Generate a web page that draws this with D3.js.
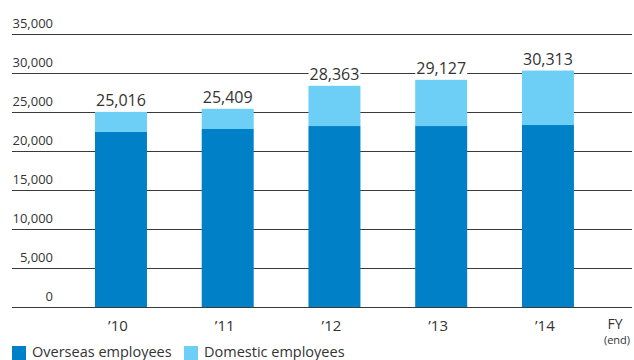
<!DOCTYPE html>
<html>
<head>
<meta charset="utf-8">
<script src="https://cdn.jsdelivr.net/npm/d3@7"></script>
<style>
  html, body { margin: 0; padding: 0; background: #fff; }
  svg { display: block; font-family: "Open Sans", "Noto Sans", sans-serif; }
</style>
</head>
<body>
<svg id="chart" width="634" height="360"></svg>
<script>
// Employees by fiscal year (end), stacked: overseas + domestic
const years = ["\u201910", "\u201911", "\u201912", "\u201913", "\u201914"];
const overseas = [22440, 22820, 23200, 23200, 23330];
const domestic = [2576, 2589, 5163, 5927, 6983];
const yTicks = [0, 5000, 10000, 15000, 20000, 25000, 30000, 35000];
const seriesNames = ["Overseas employees", "Domestic employees"];
const colors = ["#0080c6", "#6dcff6"];

const svg = d3.select("#chart");
const gridLeft = 12, gridRight = 632;

const y = d3.scaleLinear().domain([0, 35000]).range([307, 34]);
const x = d3.scaleBand().domain(years)
  .range([41.6, 627.3]).paddingInner(0.513).paddingOuter(0.5);

const rows = years.map((yr, i) => ({ year: yr, overseas: overseas[i], domestic: domestic[i] }));
const stack = d3.stack().keys(["overseas", "domestic"])(rows);

// horizontal gridlines
svg.append("g").selectAll("line").data(yTicks).join("line")
  .attr("x1", gridLeft).attr("x2", gridRight)
  .attr("y1", d => Math.round(y(d)) + 0.5).attr("y2", d => Math.round(y(d)) + 0.5)
  .attr("stroke", "#3a3a3a").attr("stroke-width", 1.2);

// tick labels sit above their gridline, right-aligned
const fmt = d3.format(",");
svg.append("g").selectAll("text").data(yTicks).join("text")
  .attr("x", 53).attr("y", d => y(d) - 6)
  .attr("text-anchor", "end")
  .attr("font-size", 13).attr("fill", "#333")
  .text(d => fmt(d));

// stacked bars
svg.append("g").selectAll("g").data(stack).join("g")
  .attr("fill", (d, i) => colors[i])
  .selectAll("rect").data(d => d).join("rect")
  .attr("x", d => x(d.data.year))
  .attr("width", x.bandwidth())
  .attr("y", d => y(d[1]))
  .attr("height", d => y(d[0]) - y(d[1]));

// total labels with a white backing that breaks the gridlines
const totals = rows.map(r => ({ year: r.year, total: r.overseas + r.domestic }));
const lbl = svg.append("g").selectAll("g").data(totals).join("g");
const lblText = lbl.append("text")
  .attr("x", d => x(d.year) + x.bandwidth() / 2)
  .attr("y", d => y(d.total) - 6)
  .attr("text-anchor", "middle")
  .attr("font-size", 16).attr("fill", "#333")
  .text(d => fmt(d.total));
lblText.each(function () {
  const b = this.getBBox();
  d3.select(this.parentNode).insert("rect", "text")
    .attr("x", b.x - 1).attr("y", b.y + 3)
    .attr("width", b.width + 2).attr("height", b.height - 4)
    .attr("fill", "#fff");
});

// category labels
svg.append("g").selectAll("text").data(years).join("text")
  .attr("x", d => x(d) + x.bandwidth() / 2 - 3)
  .attr("y", 331)
  .attr("text-anchor", "middle")
  .attr("font-size", 15).attr("fill", "#333")
  .text(d => d);

svg.append("text").attr("x", 615).attr("y", 329)
  .attr("text-anchor", "middle").attr("font-size", 14).attr("fill", "#333").text("FY");
svg.append("text").attr("x", 617).attr("y", 344)
  .attr("text-anchor", "middle").attr("font-size", 11).attr("fill", "#333").text("(end)");

// legend
const legendX = [12, 184];
const leg = svg.append("g").selectAll("g").data(seriesNames).join("g")
  .attr("transform", (d, i) => `translate(${legendX[i]},346)`);
leg.append("rect").attr("width", 14).attr("height", 14).attr("fill", (d, i) => colors[i]);
leg.append("text").attr("x", 20).attr("y", 10.5)
  .attr("font-size", 14.5).attr("fill", "#333").text(d => d);
</script>
</body>
</html>
